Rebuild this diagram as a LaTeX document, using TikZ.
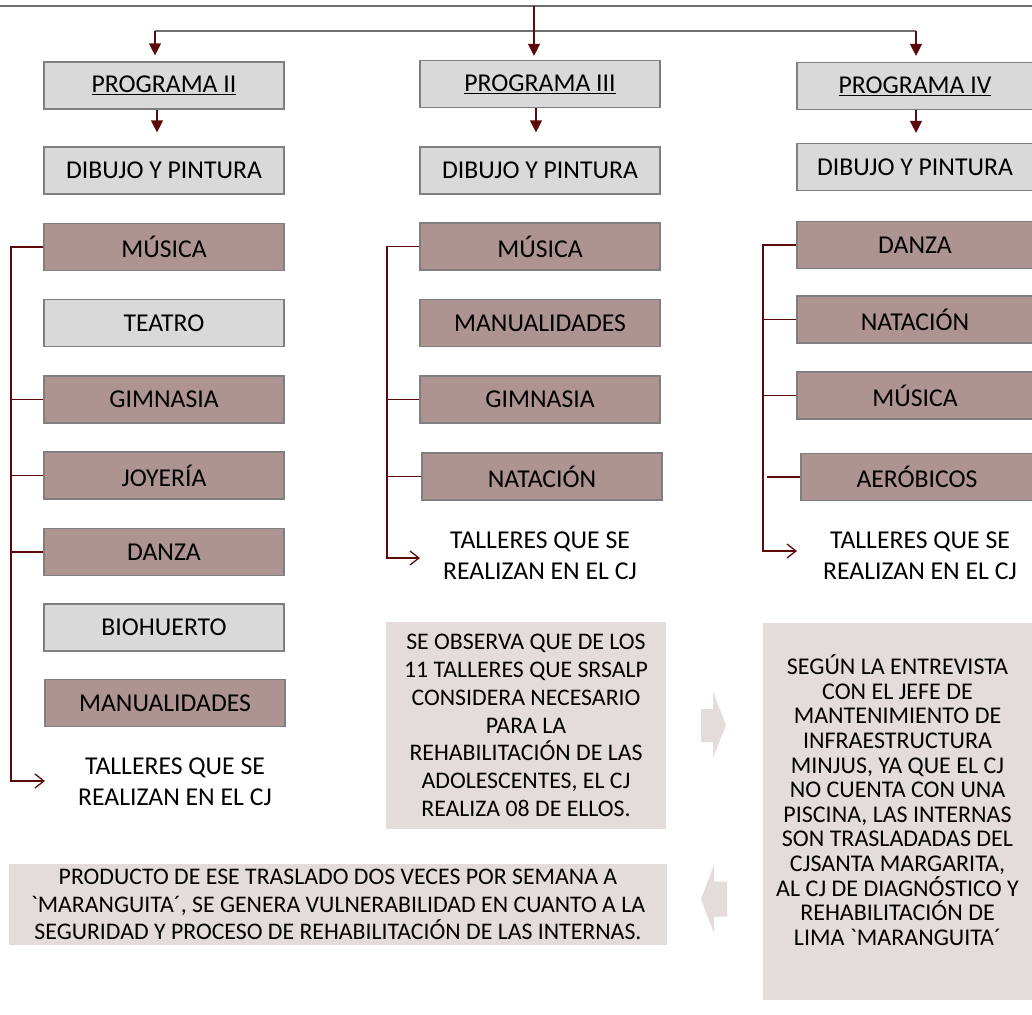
\documentclass[tikz,border=0pt]{standalone}
\usepackage{fontspec}
\newfontfamily\cf{Carlito}
\usetikzlibrary{arrows.meta}
\definecolor{lgray}{HTML}{D9D9D9}
\definecolor{bord}{HTML}{7F7F7F}
\definecolor{brownf}{HTML}{AD9391}
\definecolor{notef}{HTML}{E4DCDB}
\definecolor{dred}{HTML}{5C0A0A}
\definecolor{topline}{HTML}{6E6E6E}
\begin{document}
\begin{tikzpicture}[x=1pt,y=-1pt,
  box/.style={draw=bord,line width=1.2pt,minimum height=47pt,inner sep=0pt,font=\cf\fontsize{25.7}{30}\selectfont,text=black},
  graybox/.style={box,fill=lgray,minimum width=240pt},
  brownbox/.style={box,fill=brownf,minimum width=240pt},
  note/.style={fill=notef,inner sep=0pt,align=center,font=\cf\fontsize{23.8}{27.8}\selectfont},
  lbl/.style={align=center,font=\cf\fontsize{25.7}{31}\selectfont,inner sep=0pt},
  conn/.style={draw=dred,line width=1.3pt},
  grayconn/.style={draw=topline,line width=1.2pt},
  tarrow/.style={conn,-{Triangle[length=12pt,width=12pt]}},
  oarrow/.style={conn,-{Straight Barb[length=9pt,width=14pt]}},
  chev/.style={fill=notef,draw=none}
]
\fill[white] (0,0) rectangle (1032,1014);
\useasboundingbox (0,0) rectangle (1032,1014);

% programme boxes
\node[graybox] (p2) at (164,85.5) {\underline{PROGRAMA II}};
\node[graybox] (p3) at (540,84) {\underline{PROGRAMA III}};
\node[graybox,minimum width=236pt] (p4) at (915,86) {\underline{PROGRAMA IV}};
\node[graybox] (d2) at (164,170.5) {DIBUJO Y PINTURA};
\node[graybox] (d3) at (540,170.5) {DIBUJO Y PINTURA};
\node[graybox,minimum width=236pt] (d4) at (915,167) {DIBUJO Y PINTURA};

% column II
\node[brownbox] (a1) at (164,247) {MÚSICA};
\node[graybox] (a2) at (164,323) {TEATRO};
\node[brownbox] (a3) at (164,399.5) {GIMNASIA};
\node[brownbox] (a4) at (164,475.5) {JOYERÍA};
\node[brownbox] (a5) at (164,552) {DANZA};
\node[graybox] (a6) at (164,627.5) {BIOHUERTO};
\node[brownbox] (a7) at (165,703) {MANUALIDADES};
\node[lbl] (t2) at (175,782) {TALLERES QUE SE\\REALIZAN EN EL CJ};

% column III
\node[brownbox] (b1) at (540,246.5) {MÚSICA};
\node[brownbox] (b2) at (540,323) {MANUALIDADES};
\node[brownbox] (b3) at (540,399.5) {GIMNASIA};
\node[brownbox] (b4) at (542,476.5) {NATACIÓN};
\node[lbl] (t3) at (540,556) {TALLERES QUE SE\\REALIZAN EN EL CJ};

% column IV
\node[brownbox,minimum width=236pt] (c1) at (915,245) {DANZA};
\node[brownbox,minimum width=236pt] (c2) at (915,319.5) {NATACIÓN};
\node[brownbox,minimum width=236pt] (c3) at (915,395.5) {MÚSICA};
\node[brownbox,minimum width=232pt] (c4) at (917,477) {AERÓBICOS};
\node[lbl] (t4) at (920,556) {TALLERES QUE SE\\REALIZAN EN EL CJ};

% notes
\node[note,minimum width=280pt,minimum height=207pt] (n1) at (526,725.5) {SE OBSERVA QUE DE LOS\\11 TALLERES QUE SRSALP\\CONSIDERA NECESARIO\\PARA LA\\REHABILITACIÓN DE LAS\\ADOLESCENTES, EL CJ\\REALIZA 08 DE ELLOS.};
\fill[notef] (763,623) rectangle (1032,1000);
\node[note,fill=none,font=\cf\fontsize{24}{24.6}\selectfont] (n2) at (897.5,800) {SEGÚN LA ENTREVISTA\\CON EL JEFE DE\\MANTENIMIENTO DE\\INFRAESTRUCTURA\\MINJUS, YA QUE EL CJ\\NO CUENTA CON UNA\\PISCINA, LAS INTERNAS\\SON TRASLADADAS DEL\\CJSANTA MARGARITA,\\AL CJ DE DIAGNÓSTICO Y\\REHABILITACIÓN DE\\LIMA `MARANGUITA´};
\node[note,minimum width=658pt,minimum height=81pt,font=\cf\fontsize{23.8}{27.6}\selectfont] (n3) at (338,904.5) {PRODUCTO DE ESE TRASLADO DOS VECES POR SEMANA A\\`MARANGUITA´, SE GENERA VULNERABILIDAD EN CUANTO A LA\\SEGURIDAD Y PROCESO DE REHABILITACIÓN DE LAS INTERNAS.};

% chevrons
\fill[chev] (701,709) -- (713,709) -- (713,692) -- (726,725) -- (713,758) -- (713,742) -- (701,742) -- cycle;
\fill[chev] (727,881.5) -- (714,881.5) -- (714,865) -- (701,899) -- (714,933) -- (714,916.5) -- (727,916.5) -- cycle;

% top connectors
\coordinate (tl) at (0,6);
\coordinate (tr) at (1032,6);
\coordinate (s3) at (534,6);
\coordinate (h2) at (155,31);
\coordinate (h4) at (916,31);
\draw[grayconn] (tl) -- (tr);
\draw[grayconn] (h2) -- (h4);
\draw[tarrow,shorten >=4pt] (s3) -- (s3 |- p3.north);
\draw[tarrow,shorten >=6pt] (h2) -- (h2 |- p2.north);
\draw[tarrow,shorten >=6pt] (h4) -- (h4 |- p4.north);

% programme -> drawing
\draw[tarrow,shorten >=14pt] ([xshift=-7pt]p2.south) -- ([xshift=-7pt]p2.south |- d2.north);
\draw[tarrow,shorten >=14pt] ([xshift=-4pt]p3.south) -- ([xshift=-4pt]p3.south |- d3.north);
\draw[tarrow,shorten >=10pt] ([xshift=1pt]p4.south) -- ([xshift=1pt]p4.south |- d4.north);

% bracket II
\coordinate (k2) at (11,781);
\coordinate (e2) at (45,781);
\draw[oarrow] (a1.west) -| (k2) -- (e2);
\draw[conn] (a3.west) -- (a3.west -| k2);
\draw[conn] (a4.west) -- (a4.west -| k2);
\draw[conn] (a5.west) -- (a5.west -| k2);

% bracket III
\coordinate (k3) at (387,558);
\coordinate (e3) at (420,558);
\draw[oarrow] (b1.west) -| (k3) -- (e3);
\draw[conn] (b3.west) -- (b3.west -| k3);
\draw[conn] (b4.west) -- (b4.west -| k3);

% bracket IV
\coordinate (k4) at (763,551);
\coordinate (e4) at (797,551);
\draw[oarrow] (c1.west) -| (k4) -- (e4);
\draw[conn] (c2.west) -- (c2.west -| k4);
\draw[conn] (c3.west) -- (c3.west -| k4);
\draw[conn] (c4.west) -- ([xshift=4pt]c4.west -| k4);
\end{tikzpicture}
\end{document}
